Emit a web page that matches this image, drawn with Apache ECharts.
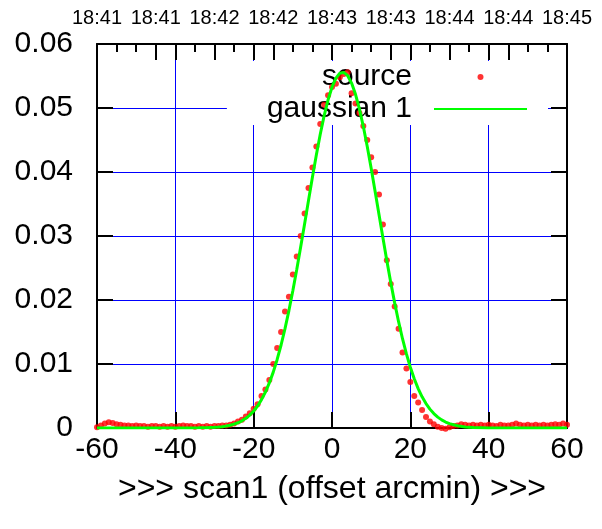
<!DOCTYPE html>
<html>
<head>
<meta charset="utf-8">
<script src="https://cdn.jsdelivr.net/npm/echarts@6/dist/echarts.min.js"></script>
<style>html,body{margin:0;padding:0;background:#fff;}#c{width:602px;height:529px;}</style>
</head>
<body>
<div id="c"></div>
<script>
const topLabels = ['18:41','18:41','18:42','18:42','18:43','18:43','18:44','18:44','18:45'];
const srcX = [-60,-59,-58,-57,-56,-55,-54,-53,-52,-51,
  -50,-49,-48,-47,-46,-45,-44,-43,-42,-41,
  -40,-39,-38,-37,-36,-35,-34,-33,-32,-31,
  -30,-29,-28,-27,-26,-25,-24,-23,-22,-21,
  -20,-19,-18,-17,-16,-15,-14,-13,-12,-11,
  -10,-9,-8,-7,-6,-5,-4,-3,-2,-1,
  0,1,2,3,4,5,6,7,8,9,
  10,11,12,13,14,15,16,17,18,19,
  20,21,22,23,24,25,26,27,28,29,
  30,31,32,33,34,35,36,37,38,39,
  40,41,42,43,44,45,46,47,48,49,
  50,51,52,53,54,55,56,57,58,59,60];
const srcY = [0.0001,0.0004,0.0007,0.0009,0.0008,0.0006,0.0005,0.0004,0.0004,0.0003,
  0.0004,0.0003,0.0003,0.0002,0.0003,0.0003,0.0002,0.0003,0.0002,0.0003,
  0.0002,0.0003,0.0004,0.0003,0.0003,0.0002,0.0003,0.0002,0.0003,0.0002,
  0.0003,0.0003,0.0004,0.0004,0.0005,0.0007,0.0010,0.0013,0.0018,0.0023,
  0.0030,0.0037,0.0050,0.0060,0.0075,0.0100,0.0125,0.0150,0.0182,0.0205,
  0.0240,0.0268,0.0300,0.0335,0.0375,0.0407,0.0440,0.0475,0.0505,0.0520,
  0.0533,0.0538,0.0548,0.0553,0.0556,0.0523,0.0507,0.0492,0.0472,0.0450,
  0.0423,0.0400,0.0365,0.0318,0.0262,0.0225,0.0190,0.0155,0.0118,0.0093,
  0.0072,0.0050,0.0040,0.0028,0.0017,0.0010,0.0006,0.0002,0.0000,-0.0001,
  0.0001,0.0003,0.0004,0.0006,0.0005,0.0004,0.0005,0.0004,0.0005,0.0004,
  0.0005,0.0004,0.0003,0.0005,0.0004,0.0004,0.0005,0.0007,0.0005,0.0004,
  0.0005,0.0004,0.0005,0.0004,0.0005,0.0004,0.0005,0.0006,0.0005,0.0007,0.0005];
const fitX = [-60,-45,-36,-34,-32,-30,-29,-28,-27,-26,-25,-24,-23,-22,-21,
  -20,-19,-18,-17,-16,-15,-14,-13,-12,-11,-10,-9,-8,-7,-6,-5,-4,-3,-2,-1,
  0,1,2,3,4,5,6,7,8,9,10,11,12,13,14,15,16,17,18,19,
  20,21,22,23,24,25,26,27,28,29,30,32,34,36,40,50,60];
const fitY = [0,0,0.00001,0.00002,0.000045,0.0001,0.00015,0.00021,0.0003,0.00043,0.0006,0.00082,0.00112,0.00151,0.00201,
  0.00265,0.00344,0.00443,0.00562,0.00704,0.00873,0.01071,0.01297,0.01552,0.01835,0.02145,0.02477,0.02827,0.03189,0.03556,0.03917,0.04265,0.04589,0.0488,0.05128,
  0.05325,0.05466,0.05544,0.05557,0.05505,0.05389,0.05214,0.04985,0.0471,0.04398,0.04059,0.03701,0.03336,0.02971,0.02615,0.02275,0.01955,0.01661,0.01395,0.01158,
  0.00949,0.00769,0.00616,0.00487,0.00381,0.00295,0.00225,0.0017,0.00127,0.00093,0.00068,0.00035,0.00017,0.00008,0.00001,0,0];

const FONT = '"Liberation Sans", Arial, sans-serif';
const chart = echarts.init(document.getElementById('c'), null, {renderer: 'canvas'});
const blk = () => ({color: '#000', width: 2});
const line = () => ({show: true, onZero: false, lineStyle: blk()});
const tick = (len) => ({show: true, inside: true, length: len, lineStyle: blk()});
const blueGrid = () => ({show: true, showMinLine: false, showMaxLine: false, lineStyle: {color: '#0000ff', width: 1}});
const hidden = () => ({axisLine: {show: false, onZero: false}, axisTick: {show: false}, axisLabel: {show: false}});
chart.setOption({
  animation: false,
  backgroundColor: '#fff',
  textStyle: {fontFamily: FONT},
  grid: {left: 97, top: 44, width: 470, height: 384, containLabel: false},
  legend: {
    orient: 'vertical', align: 'right', right: 54, top: 61,
    padding: [1, 20, 1, 40], backgroundColor: '#fff', z: 1,
    itemWidth: 93, itemHeight: 6, itemGap: 2, selectedMode: false,
    textStyle: {fontSize: 30, color: '#000', fontFamily: FONT, padding: [0, 17, 0, 0]},
    data: [{name: 'source', icon: 'circle'}, {name: 'gaussian 1', itemStyle: {color: 'rgba(0,0,0,0)'}}]
  },
  xAxis: [
    Object.assign({type: 'value', position: 'bottom', min: -60, max: 60, interval: 20, z: 0,
     splitLine: blueGrid()}, hidden()),
    {type: 'value', position: 'bottom', min: -60, max: 60, interval: 20, z: 2,
     axisLine: line(), axisTick: tick(16), splitLine: {show: false},
     axisLabel: {show: true, fontSize: 30, color: '#000', margin: 7, fontFamily: FONT},
     name: '>>> scan1 (offset arcmin) >>>', nameLocation: 'middle', nameGap: 45,
     nameTextStyle: {fontSize: 32, color: '#000', fontFamily: FONT}},
    {type: 'value', position: 'top', min: -60, max: 60, interval: 15, z: 2,
     axisLine: line(), axisTick: tick(16),
     minorTick: {show: true, splitNumber: 3, length: 8, lineStyle: blk()},
     splitLine: {show: false},
     axisLabel: {show: true, fontSize: 20, color: '#000', margin: 16, fontFamily: FONT,
       showMinLabel: true, showMaxLabel: true,
       formatter: v => topLabels[Math.round((v + 60) / 15)]}},
    {type: 'value', position: 'top', min: -60, max: 60, interval: 20, z: 2,
     axisLine: {show: false, onZero: false}, axisTick: tick(16),
     splitLine: {show: false}, axisLabel: {show: false}}
  ],
  yAxis: [
    Object.assign({type: 'value', position: 'left', min: 0, max: 0.06, interval: 0.01, z: 0,
     splitLine: blueGrid()}, hidden()),
    {type: 'value', position: 'left', min: 0, max: 0.06, interval: 0.01, z: 2,
     axisLine: line(), axisTick: tick(16), splitLine: {show: false},
     axisLabel: {show: true, fontSize: 30, color: '#000', margin: 24, fontFamily: FONT}},
    {type: 'value', position: 'right', min: 0, max: 0.06, interval: 0.01, z: 2,
     axisLine: line(), axisTick: tick(16), splitLine: {show: false}, axisLabel: {show: false}}
  ],
  series: [
    {name: 'source', type: 'scatter', xAxisIndex: 1, yAxisIndex: 1, z: 3, clip: false,
     symbol: 'circle', symbolSize: 6, itemStyle: {color: '#ff0000'},
     data: srcX.map((x, i) => [x, srcY[i]])},
    {name: 'gaussian 1', type: 'line', xAxisIndex: 1, yAxisIndex: 1, z: 4,
     symbol: 'none', lineStyle: {color: '#00ff00', width: 3}, itemStyle: {color: '#00ff00'},
     data: fitX.map((x, i) => [x, fitY[i]])}
  ]
});
</script>
</body>
</html>
